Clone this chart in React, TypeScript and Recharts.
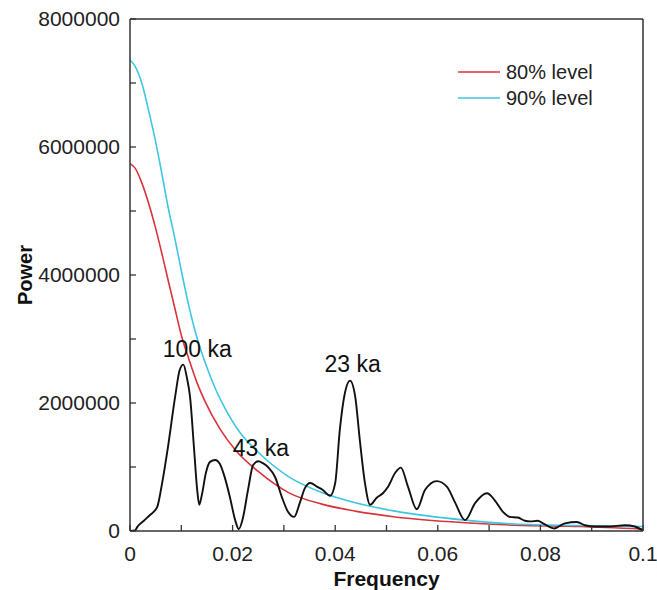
import React from 'react';
import {
    LineChart,
    Line,
    XAxis,
    YAxis,
    Legend,
    ReferenceLine,
    ReferenceDot,
} from 'recharts';

// Spectrum (black curve)
const spectrumFreq = [
    0, 0.001, 0.0014, 0.0027, 0.0039, 0.0053, 0.0062, 0.0074, 0.0088, 0.0097,
    0.0104, 0.0111, 0.0117, 0.0125, 0.0131, 0.0135, 0.014, 0.0148, 0.0156, 0.0166,
    0.0175, 0.0185, 0.0195, 0.0205, 0.0212, 0.022, 0.023, 0.024, 0.025, 0.0259,
    0.0269, 0.0283, 0.0296, 0.0308, 0.032, 0.0331, 0.0341, 0.0351, 0.0365, 0.0376,
    0.039, 0.04, 0.0409, 0.0419, 0.0429, 0.0439, 0.0448, 0.0458, 0.0468, 0.0481,
    0.0493, 0.0503, 0.0517, 0.0528, 0.0542, 0.0559, 0.0575, 0.0598, 0.0618, 0.0634,
    0.0653, 0.0673, 0.0696, 0.0711, 0.0727, 0.0741, 0.0756, 0.077, 0.078, 0.0795,
    0.0805, 0.0827, 0.0848, 0.0871, 0.0887, 0.0906, 0.0932, 0.0965, 0.0984, 0.1,
];
const spectrumPower = [
    0, 10000, 60000, 160000, 250000, 375000, 720000, 1310000, 2100000, 2520000,
    2600000, 2390000, 2100000, 1270000, 640000, 410000, 560000, 910000, 1080000, 1110000,
    1050000, 830000, 520000, 170000, 30000, 200000, 640000, 1030000, 1090000, 1060000,
    1000000, 840000, 530000, 300000, 220000, 440000, 670000, 750000, 690000, 640000,
    550000, 750000, 1580000, 2160000, 2350000, 2100000, 1420000, 750000, 410000, 520000,
    590000, 690000, 910000, 990000, 690000, 340000, 640000, 780000, 690000, 440000,
    170000, 440000, 590000, 480000, 300000, 220000, 210000, 160000, 150000, 160000,
    120000, 40000, 120000, 140000, 90000, 70000, 70000, 90000, 70000, 5000,
];

// 80% confidence level (red)
const level80Freq = [
    0, 0.001, 0.0023, 0.0036, 0.0049, 0.0062, 0.0074, 0.0088, 0.0101, 0.0115,
    0.013, 0.0146, 0.0175, 0.0205, 0.025, 0.0309, 0.0374, 0.0439, 0.0517, 0.0653,
    0.075, 0.0877, 0.1,
];
const level80Power = [
    5740000, 5670000, 5440000, 5130000, 4760000, 4340000, 3930000, 3460000, 3030000, 2680000,
    2330000, 2030000, 1600000, 1270000, 930000, 600000, 420000, 310000, 220000, 130000,
    90000, 70000, 30000,
];

// 90% confidence level (cyan)
const level90Freq = [
    0, 0.001, 0.0023, 0.0036, 0.0049, 0.0062, 0.0074, 0.0088, 0.0101, 0.0114,
    0.0127, 0.014, 0.0155, 0.017, 0.0185, 0.0215, 0.025, 0.0309, 0.0374, 0.0439,
    0.0517, 0.0653, 0.075, 0.0877, 0.1,
];
const level90Power = [
    7360000, 7260000, 7000000, 6580000, 6120000, 5590000, 5070000, 4550000, 4030000, 3540000,
    3120000, 2780000, 2450000, 2160000, 1920000, 1530000, 1230000, 850000, 600000, 440000,
    310000, 170000, 110000, 86000, 70000,
];

const xTicks = [0, 0.01, 0.02, 0.03, 0.04, 0.05, 0.06, 0.07, 0.08, 0.09, 0.1];
const yTicks = [0, 1000000, 2000000, 3000000, 4000000, 5000000, 6000000, 7000000, 8000000];

const toPoints = (freq: number[], power: number[]) =>
    freq.map((f, i) => ({ freq: f, power: power[i] }));

const spectrum = toPoints(spectrumFreq, spectrumPower);
const level80 = toPoints(level80Freq, level80Power);
const level90 = toPoints(level90Freq, level90Power);

const FONT = '"Liberation Sans", Arial, sans-serif';
const AXIS_COLOR = '#333';
const RED = '#d8343c';
const CYAN = '#3ec6e2';

const XTick = (props: any) => {
    const { x, y, payload } = props;
    const showLabel = Math.round(payload.value * 100) % 2 === 0;
    return (
        <g>
            <line x1={x} y1={y} x2={x} y2={y - 6} stroke={AXIS_COLOR} strokeWidth={1.3} />
            {showLabel && (
                <text x={x} y={y + 30} textAnchor="middle" fontSize={21} fontFamily={FONT} fill="#222">
                    {payload.value === 0 ? '0' : String(payload.value)}
                </text>
            )}
        </g>
    );
};

const YTick = (props: any) => {
    const { x, y, payload } = props;
    const showLabel = Math.round(payload.value / 1000000) % 2 === 0;
    return (
        <g>
            <line x1={x} y1={y} x2={x + 6} y2={y} stroke={AXIS_COLOR} strokeWidth={1.3} />
            {showLabel && (
                <text x={x - 10} y={y + 7} textAnchor="end" fontSize={21} fontFamily={FONT} fill="#222">
                    {String(payload.value)}
                </text>
            )}
        </g>
    );
};

const PowerLabel = (props: any) => {
    const { viewBox } = props;
    const cx = 25;
    const cy = viewBox.y + viewBox.height / 2;
    return (
        <text
            x={cx}
            y={cy}
            transform={`rotate(-90, ${cx}, ${cy})`}
            textAnchor="middle"
            dominantBaseline="central"
            fontSize={20}
            fontWeight="bold"
            fontFamily={FONT}
            fill="#111"
        >
            Power
        </text>
    );
};

const LegendContent = () => (
    <div style={{ fontFamily: FONT, fontSize: 20, color: '#222' }}>
        {[
            { name: '80% level', color: RED },
            { name: '90% level', color: CYAN },
        ].map((item) => (
            <div key={item.name} style={{ display: 'flex', alignItems: 'center', height: 26 }}>
                <svg width={42} height={4} style={{ marginRight: 6 }}>
                    <line x1={0} y1={2} x2={42} y2={2} stroke={item.color} strokeWidth={1.6} />
                </svg>
                <span>{item.name}</span>
            </div>
        ))}
    </div>
);

const App: React.FC = () => {
    return (
        <div style={{ position: 'absolute', left: 0, top: 0, background: '#fff' }}>
            <LineChart
                width={657}
                height={590}
                margin={{ top: 19, right: 14, left: 0, bottom: 0 }}
            >
                <XAxis
                    dataKey="freq"
                    type="number"
                    domain={[0, 0.1]}
                    ticks={xTicks}
                    allowDataOverflow
                    height={59}
                    tickSize={0}
                    tickMargin={0}
                    tickLine={false}
                    tick={<XTick />}
                    axisLine={{ stroke: AXIS_COLOR, strokeWidth: 1.5 }}
                    label={{
                        value: 'Frequency',
                        position: 'insideBottom',
                        offset: 4,
                        fontSize: 21,
                        fontWeight: 'bold',
                        fontFamily: FONT,
                        fill: '#111',
                    }}
                />
                <YAxis
                    type="number"
                    domain={[0, 8000000]}
                    ticks={yTicks}
                    allowDataOverflow
                    width={130}
                    tickSize={0}
                    tickMargin={0}
                    tickLine={false}
                    tick={<YTick />}
                    axisLine={{ stroke: AXIS_COLOR, strokeWidth: 1.5 }}
                    label={<PowerLabel />}
                />
                <ReferenceLine y={8000000} stroke={AXIS_COLOR} strokeWidth={1.5} />
                <ReferenceLine x={0.1} stroke={AXIS_COLOR} strokeWidth={1.5} />
                <Legend
                    layout="vertical"
                    align="center"
                    verticalAlign="middle"
                    content={<LegendContent />}
                    wrapperStyle={{ left: 458, top: 59, width: 190 }}
                />
                <Line
                    data={level80}
                    dataKey="power"
                    type="monotone"
                    stroke={RED}
                    strokeWidth={1.6}
                    dot={false}
                    isAnimationActive={false}
                />
                <Line
                    data={level90}
                    dataKey="power"
                    type="monotone"
                    stroke={CYAN}
                    strokeWidth={1.6}
                    dot={false}
                    isAnimationActive={false}
                />
                <Line
                    data={spectrum}
                    dataKey="power"
                    type="monotone"
                    stroke="#111"
                    strokeWidth={1.9}
                    dot={false}
                    isAnimationActive={false}
                />
                <ReferenceDot x={0.0131} y={2850000} r={0} label={{ value: '100 ka', position: 'center', fontSize: 23, fontFamily: FONT, fill: '#111' }} />
                <ReferenceDot x={0.0434} y={2610000} r={0} label={{ value: '23 ka', position: 'center', fontSize: 23, fontFamily: FONT, fill: '#111' }} />
                <ReferenceDot x={0.0255} y={1300000} r={0} label={{ value: '43 ka', position: 'center', fontSize: 23, fontFamily: FONT, fill: '#111' }} />
            </LineChart>
        </div>
    );
};

export default App;
